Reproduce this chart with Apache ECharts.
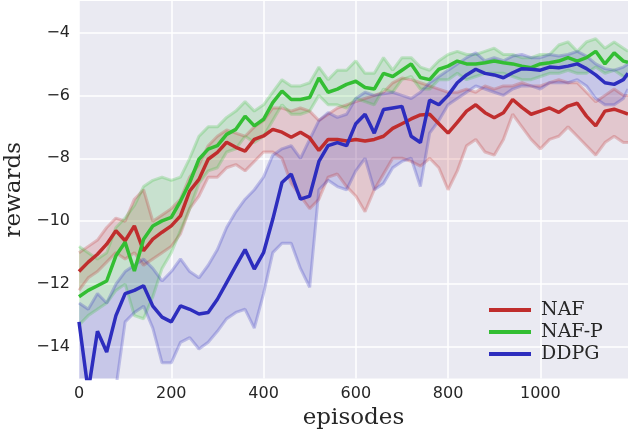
<!DOCTYPE html>
<html>
<head>
<meta charset="utf-8">
<script src="https://cdn.jsdelivr.net/npm/echarts@6/dist/echarts.min.js"></script>
<style>
  html, body { margin: 0; padding: 0; background: #fff; }
  #main { width: 628px; height: 432px; }
</style>
</head>
<body>
<div id="main"></div>
<script>
// episodes sampled every 20 (plus last point)
var episodes = [0,20,40,60,80,100,120,140,160,180,200,220,240,260,280,300,320,340,360,380,
  400,420,440,460,480,500,520,540,560,580,600,620,640,660,680,700,720,740,760,780,
  800,820,840,860,880,900,920,940,960,980,1000,1020,1040,1060,1080,1100,1120,1140,1160,1180,1190];

var nafMean = [-11.6,-11.3,-11.05,-10.73,-10.3,-10.62,-10.15,-10.94,-10.57,-10.35,-10.15,-9.83,-9.04,-8.67,-8.03,-7.81,-7.49,-7.65,-7.77,-7.4,
  -7.29,-7.08,-7.17,-7.33,-7.17,-7.35,-7.75,-7.4,-7.4,-7.45,-7.4,-7.45,-7.4,-7.3,-7.05,-6.9,-6.75,-6.62,-6.6,-6.9,
  -7.2,-6.86,-6.5,-6.3,-6.55,-6.71,-6.55,-6.13,-6.38,-6.6,-6.5,-6.4,-6.54,-6.34,-6.25,-6.66,-6.97,-6.5,-6.44,-6.54,-6.6];
var nafUpper = [-11.0,-10.8,-10.6,-10.2,-9.9,-10.0,-9.3,-9.0,-10.0,-9.8,-9.6,-9.3,-8.6,-8.2,-7.6,-7.3,-7.1,-7.2,-7.3,-7.0,
  -6.8,-6.4,-6.4,-6.5,-6.4,-6.5,-6.8,-6.6,-6.4,-6.3,-6.2,-6.1,-6.0,-5.9,-5.6,-5.45,-5.5,-5.6,-5.7,-5.8,
  -5.9,-5.9,-5.8,-5.9,-5.7,-5.8,-5.7,-5.7,-5.6,-5.7,-5.7,-5.6,-5.5,-5.6,-5.6,-5.9,-6.2,-6.0,-5.8,-6.0,-6.0];
var nafLower = [-12.2,-11.8,-11.6,-11.3,-11.0,-11.2,-11.0,-11.4,-11.2,-11.0,-10.8,-10.4,-9.6,-9.2,-8.6,-8.6,-8.3,-8.2,-8.4,-8.1,
  -7.8,-7.8,-8.0,-8.8,-9.2,-9.6,-9.3,-8.6,-8.5,-8.9,-9.2,-9.7,-9.0,-8.5,-8.0,-8.0,-8.1,-8.25,-8.0,-8.3,
  -9.0,-8.4,-7.6,-7.4,-7.8,-7.9,-7.4,-6.6,-7.0,-7.4,-7.7,-7.4,-7.3,-7.0,-7.3,-7.6,-7.9,-7.5,-7.3,-7.5,-7.5];

var nafpMean = [-12.4,-12.2,-12.05,-11.9,-11.1,-10.67,-11.58,-10.57,-10.15,-9.99,-9.88,-9.36,-8.77,-8.03,-7.71,-7.6,-7.24,-7.08,-6.66,-6.97,
  -6.76,-6.23,-5.86,-6.13,-6.13,-6.07,-5.45,-5.9,-5.8,-5.65,-5.55,-5.75,-5.8,-5.3,-5.4,-5.2,-5.0,-5.43,-5.5,-5.17,
  -5.07,-4.91,-5.0,-5.0,-4.96,-4.91,-4.96,-5.0,-5.07,-5.12,-5.0,-4.96,-4.91,-4.8,-4.91,-4.8,-4.6,-5.0,-4.65,-4.91,-4.95];
var nafpUpper = [-10.8,-11.0,-11.2,-11.0,-10.2,-9.9,-9.5,-8.9,-8.7,-8.6,-8.7,-8.6,-8.0,-7.3,-7.0,-7.0,-6.7,-6.5,-6.2,-6.5,
  -6.3,-5.9,-5.5,-5.7,-5.7,-5.6,-5.1,-5.5,-5.2,-5.2,-4.9,-5.3,-5.3,-4.8,-5.2,-4.8,-4.8,-5.1,-5.2,-4.9,
  -4.7,-4.6,-4.7,-4.7,-4.6,-4.5,-4.7,-4.7,-4.8,-4.8,-4.7,-4.7,-4.4,-4.3,-4.6,-4.3,-4.2,-4.5,-4.3,-4.5,-4.6];
var nafpLower = [-13.3,-13.0,-12.8,-12.6,-12.2,-12.0,-13.0,-13.1,-12.4,-11.5,-11.0,-10.3,-9.6,-8.8,-8.4,-8.3,-7.8,-7.7,-7.3,-7.5,
  -7.3,-6.8,-6.3,-6.6,-6.6,-6.5,-6.0,-6.3,-6.3,-6.4,-6.1,-6.2,-6.3,-5.8,-5.9,-5.5,-5.4,-5.8,-5.8,-5.5,
  -5.5,-5.3,-5.5,-5.4,-5.3,-5.3,-5.3,-5.4,-5.5,-5.5,-5.4,-5.3,-5.3,-5.2,-5.3,-5.3,-5.1,-5.3,-5.2,-5.4,-5.4];

var ddpgMean = [-13.2,-15.4,-13.5,-14.16,-13.0,-12.3,-12.2,-12.05,-12.7,-13.05,-13.2,-12.69,-12.8,-12.95,-12.9,-12.48,-11.95,-11.42,-10.9,-11.52,
  -11.0,-9.94,-8.77,-8.5,-9.3,-9.2,-8.1,-7.6,-7.5,-7.6,-6.9,-6.6,-7.2,-6.45,-6.4,-6.35,-7.3,-7.5,-6.15,-6.3,
  -6.0,-5.6,-5.35,-5.17,-5.3,-5.35,-5.44,-5.28,-5.15,-5.17,-5.2,-5.1,-5.12,-5.07,-5.0,-5.15,-5.35,-5.6,-5.65,-5.5,-5.3];
var ddpgUpper = [-12.6,-12.8,-12.3,-12.6,-12.0,-11.6,-11.4,-11.2,-11.5,-11.9,-11.6,-11.2,-11.6,-11.8,-11.4,-10.9,-10.2,-9.7,-9.3,-9.0,
  -8.6,-7.9,-7.7,-7.6,-8.0,-7.4,-6.8,-6.55,-6.7,-6.6,-6.1,-5.9,-6.0,-5.95,-5.9,-6.0,-6.1,-5.9,-5.6,-5.4,
  -5.2,-5.0,-4.8,-4.65,-4.9,-4.8,-4.9,-4.75,-4.7,-4.8,-4.8,-4.7,-4.75,-4.7,-4.6,-4.75,-5.0,-5.15,-5.2,-5.1,-5.0];
var ddpgLower = [-15.5,-16.0,-15.5,-16.0,-15.3,-13.2,-12.9,-12.7,-13.4,-14.5,-14.5,-13.85,-13.7,-14.06,-13.85,-13.5,-13.1,-12.9,-12.8,-13.4,
  -12.3,-11.0,-10.7,-10.7,-11.5,-12.1,-9.0,-8.7,-8.9,-9.0,-8.4,-8.0,-9.0,-8.8,-8.3,-8.1,-8.0,-8.9,-7.2,-6.8,
  -6.3,-6.1,-5.9,-5.7,-5.8,-5.9,-6.0,-5.8,-5.7,-5.7,-5.8,-5.6,-5.6,-5.6,-5.5,-5.7,-6.1,-6.3,-6.3,-6.1,-5.8];

var xTicks = [0, 200, 400, 600, 800, 1000];
var yTicks = [-14, -12, -10, -8, -6, -4];

var names = ['NAF', 'NAF-P', 'DDPG'];
var colors = ['#c02d2d', '#33be33', '#2d2dbe'];
var bandFill = ['rgba(192,45,45,0.18)', 'rgba(51,190,51,0.18)', 'rgba(45,45,190,0.18)'];
var bandEdge = ['rgba(192,45,45,0.25)', 'rgba(51,190,51,0.25)', 'rgba(45,45,190,0.25)'];

function pairs(ys) {
  return episodes.map(function (x, i) { return [x, ys[i]]; });
}

function bandSeries(k, upper, lower) {
  return {
    type: 'custom',
    silent: true,
    clip: true,
    z: 1,
    data: [[0, upper[0]]],
    renderItem: function (params, api) {
      var pts = [];
      for (var i = 0; i < episodes.length; i++) pts.push(api.coord([episodes[i], upper[i]]));
      for (var j = episodes.length - 1; j >= 0; j--) pts.push(api.coord([episodes[j], lower[j]]));
      return {
        type: 'polygon',
        shape: { points: pts },
        style: { fill: bandFill[k], stroke: null }
      };
    }
  };
}

function edgeSeries(k, ys) {
  return {
    type: 'line',
    silent: true,
    z: 2,
    showSymbol: false,
    data: pairs(ys),
    lineStyle: { color: bandEdge[k], width: 3 }
  };
}

function meanSeries(k, ys) {
  return {
    name: names[k],
    type: 'line',
    z: 3,
    showSymbol: false,
    data: pairs(ys),
    itemStyle: { color: colors[k] },
    lineStyle: { color: colors[k], width: 3.5 }
  };
}

var mychart = echarts.init(document.getElementById('main'));
var labelFmt = function (v) { return v < 0 ? '\u2212' + (-v) : String(v); };

var option = {
  backgroundColor: '#ffffff',
  animation: false,
  grid: {
    left: 79, right: 0, top: 1, bottom: 53.5,
    outerBoundsMode: 'none',
    show: true,
    backgroundColor: '#eaeaf2',
    borderWidth: 0
  },
  legend: {
    orient: 'vertical',
    left: 484,
    top: 295,
    itemWidth: 42,
    itemHeight: 4,
    itemGap: 2,
    icon: 'rect',
    data: names,
    textStyle: { fontFamily: 'DejaVu Serif', fontSize: 19, color: '#262626', lineHeight: 20, padding: [0, 0, 0, 5] }
  },
  xAxis: {
    type: 'value',
    min: 0,
    max: 1190,
    name: 'episodes',
    nameLocation: 'middle',
    nameGap: 26,
    nameTextStyle: { fontFamily: 'DejaVu Serif', fontSize: 23, color: '#262626' },
    axisLine: { show: false },
    axisTick: { show: false, customValues: xTicks },
    axisLabel: { customValues: xTicks, formatter: labelFmt, fontFamily: 'DejaVu Sans', fontSize: 16, color: '#262626', margin: 7 },
    splitLine: { show: true, lineStyle: { color: '#ffffff', width: 1.5 } }
  },
  yAxis: {
    type: 'value',
    min: -15,
    max: -3,
    name: 'rewards',
    nameLocation: 'middle',
    nameRotate: 90,
    nameGap: 53,
    nameTextStyle: { fontFamily: 'DejaVu Serif', fontSize: 23, color: '#262626' },
    axisLine: { show: false },
    axisTick: { show: false, customValues: yTicks },
    axisLabel: { customValues: yTicks, formatter: labelFmt, fontFamily: 'DejaVu Sans', fontSize: 16, color: '#262626', margin: 9 },
    splitLine: { show: true, lineStyle: { color: '#ffffff', width: 1.5 } }
  },
  series: [
    bandSeries(0, nafUpper, nafLower),
    bandSeries(1, nafpUpper, nafpLower),
    bandSeries(2, ddpgUpper, ddpgLower),
    edgeSeries(0, nafUpper), edgeSeries(0, nafLower),
    edgeSeries(1, nafpUpper), edgeSeries(1, nafpLower),
    edgeSeries(2, ddpgUpper), edgeSeries(2, ddpgLower),
    meanSeries(0, nafMean),
    meanSeries(1, nafpMean),
    meanSeries(2, ddpgMean)
  ]
};
mychart.setOption(option);
</script>
</body>
</html>
